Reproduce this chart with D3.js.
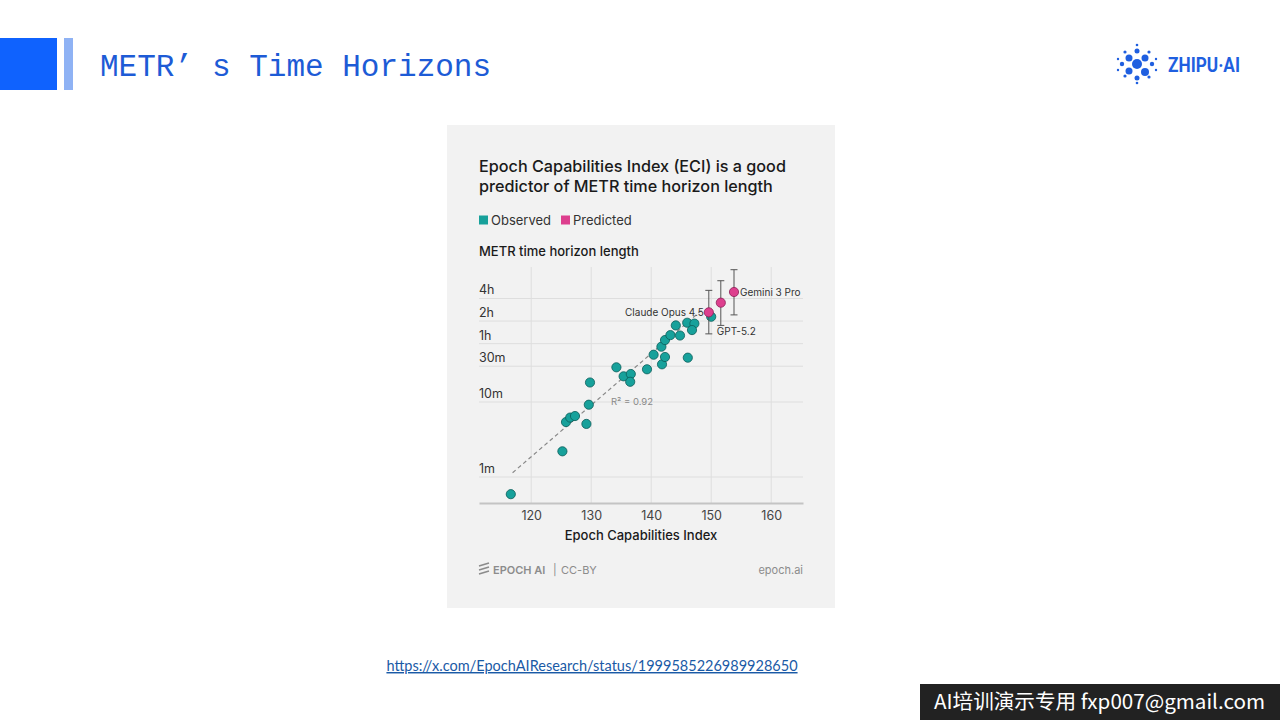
<!DOCTYPE html>
<html>
<head>
<meta charset="utf-8">
<script src="https://cdn.jsdelivr.net/npm/d3@7"></script>
<style>
  body { margin: 0; background: #fff; }
  svg { display: block; }
</style>
</head>
<body>
<div id="slide"></div>
<script>
// observed models: ECI score and METR time horizon (minutes)
var obsEci = [116.6, 125.2, 125.8, 126.5, 127.3, 129.2, 129.6, 129.8, 134.2, 135.4, 136.6, 136.5, 139.3,
              140.4, 141.8, 142.3, 141.7, 142.3, 143.2, 144.8, 144.1, 146.1, 146.0, 147.2, 146.8, 150.0];
var obsMinutes = [0.59, 2.2, 5.4, 6.2, 6.5, 5.1, 9.2, 18.2, 29, 22, 23.6, 18.6, 27.3,
                  42.7, 31.8, 39.8, 54.6, 67, 78, 77, 105, 39, 114, 111, 91, 137];

// predicted models with interval
var predNames = ["Claude Opus 4.5", "GPT-5.2", "Gemini 3 Pro"];
var predEci = [149.6, 151.6, 153.8];
var predMinutes = [157, 211, 293];
var predLow = [81, 105, 145];
var predHigh = [308, 414, 581];

// dashed fit line (two ends)
var fitEci = [116.9, 148.5];
var fitMinutes = [1.14, 170];

var yTickVals = [1, 10, 30, 60, 120, 240];
var yTickLabels = ["1m", "10m", "30m", "1h", "2h", "4h"];
var xTickVals = [120, 130, 140, 150, 160];

var teal = "#17a19b", tealDark = "#0b5d59";
var pink = "#dd3f8e", pinkDark = "#8c1f57";

var svg = d3.select("#slide").append("svg")
    .attr("width", 1280)
    .attr("height", 720);

// slide header
svg.append("rect").attr("x", 0).attr("y", 38).attr("width", 57).attr("height", 52).attr("fill", "#0f62fe");
svg.append("rect").attr("x", 64).attr("y", 38).attr("width", 9).attr("height", 52).attr("fill", "#8fb2f4");
var head = svg.append("text")
    .attr("x", 100).attr("y", 76)
    .attr("font-family", "Liberation Mono, DejaVu Sans Mono, monospace")
    .attr("font-size", 31)
    .attr("fill", "#1d5bd6");
head.append("tspan").text("METR’");
head.append("tspan").attr("dx", 19).text("s Time Horizons");

// zhipu logo
var logo = svg.append("g").attr("transform", "translate(1137,64)");
var dots = [[0,0,5],[-8,-6,3.5],[8,-6,3.5],[-8,7,3.5],[8,8,4],[0,-13,2.5],[0,14,2.5],[-15,0,2.2],[15,0,2.2],
            [-12,-12,1.6],[12,-12,1.6],[-12,12,1.6],[12,13,1.6],[-19,-5,1.2],[19,-5,1.2],[-19,6,1.2],[19,6,1.2],[0,-19,1.3],[0,19,1.3]];
logo.selectAll("circle").data(dots).enter().append("circle")
    .attr("cx", function(d) { return d[0]; })
    .attr("cy", function(d) { return d[1]; })
    .attr("r", function(d) { return d[2]; })
    .attr("fill", "#1f5fe0");
svg.append("text")
    .attr("x", 1168).attr("y", 72)
    .attr("font-family", "Roboto, Liberation Sans, sans-serif")
    .attr("font-weight", 700)
    .attr("font-size", 20)
    .attr("textLength", 72).attr("lengthAdjust", "spacingAndGlyphs")
    .attr("fill", "#1f5fe0")
    .text("ZHIPU·AI");

// chart card
svg.append("rect").attr("x", 447).attr("y", 125).attr("width", 388).attr("height", 483).attr("fill", "#f2f2f2");

var font = "Inter, Noto Sans, sans-serif";
var title = svg.append("text")
    .attr("font-family", font)
    .attr("font-size", 16.2)
    .attr("font-weight", 500)
    .attr("fill", "#1a1a1a");
title.append("tspan").attr("x", 479).attr("y", 172).text("Epoch Capabilities Index (ECI) is a good");
title.append("tspan").attr("x", 479).attr("y", 192).text("predictor of METR time horizon length");

// legend
var legend = [["Observed", teal, 479], ["Predicted", pink, 561]];
var lg = svg.selectAll(".lg").data(legend).enter().append("g").attr("class", "lg");
lg.append("rect")
    .attr("x", function(d) { return d[2]; })
    .attr("y", 215.5).attr("width", 9).attr("height", 9)
    .attr("fill", function(d) { return d[1]; });
lg.append("text")
    .attr("x", function(d) { return d[2] + 12; })
    .attr("y", 225)
    .attr("font-family", font).attr("font-size", 13).attr("fill", "#333")
    .text(function(d) { return d[0]; });

svg.append("text")
    .attr("x", 479).attr("y", 256)
    .attr("font-family", font).attr("font-size", 13).attr("font-weight", 500).attr("fill", "#1a1a1a")
    .text("METR time horizon length");

// scales
var x = d3.scaleLinear().domain([111.3, 165.3]).range([479, 803]);
var y = d3.scaleLog().domain([0.45, 631]).range([503, 267]);

var grid = svg.append("g");
grid.selectAll(".vg").data(xTickVals).enter().append("line")
    .attr("x1", function(d) { return x(d); }).attr("x2", function(d) { return x(d); })
    .attr("y1", 267).attr("y2", 503)
    .attr("stroke", "#dedede").attr("stroke-width", 1);
grid.selectAll(".hg").data(yTickVals).enter().append("line")
    .attr("x1", 479).attr("x2", 803)
    .attr("y1", function(d) { return y(d); }).attr("y2", function(d) { return y(d); })
    .attr("stroke", "#dedede").attr("stroke-width", 1);
grid.selectAll(".yl").data(yTickVals).enter().append("text")
    .attr("x", 479)
    .attr("y", function(d) { return y(d) - 4; })
    .attr("font-family", font).attr("font-size", 12.5).attr("fill", "#333")
    .text(function(d, i) { return yTickLabels[i]; });

// x axis
var xAxis = svg.append("g")
    .attr("transform", "translate(0,503)")
    .call(d3.axisBottom(x).tickValues(xTickVals).tickSize(0).tickPadding(8));
xAxis.select(".domain").attr("stroke", "#c4c4c4").attr("stroke-width", 2);
xAxis.selectAll("text").attr("font-family", font).attr("font-size", 12.5).attr("fill", "#444");

svg.append("text")
    .attr("x", 641).attr("y", 540)
    .attr("text-anchor", "middle")
    .attr("font-family", font).attr("font-size", 13).attr("font-weight", 500).attr("fill", "#1a1a1a")
    .text("Epoch Capabilities Index");

// fit line
var fit = fitEci.map(function(d, i) { return [d, fitMinutes[i]]; });
svg.append("path")
    .attr("d", d3.line().x(function(d) { return x(d[0]); }).y(function(d) { return y(d[1]); })(fit))
    .attr("fill", "none").attr("stroke", "#888").attr("stroke-width", 1.2)
    .attr("stroke-dasharray", "4,3");
svg.append("text")
    .attr("x", 611).attr("y", 405)
    .attr("font-family", font).attr("font-size", 9.5).attr("fill", "#8a8a8a")
    .text("R² = 0.92");

// observed points
var obs = obsEci.map(function(d, i) { return { eci: d, min: obsMinutes[i] }; });
svg.selectAll(".obs").data(obs).enter().append("circle")
    .attr("class", "obs")
    .attr("cx", function(d) { return x(d.eci); })
    .attr("cy", function(d) { return y(d.min); })
    .attr("r", 4.6)
    .attr("fill", teal).attr("stroke", tealDark).attr("stroke-width", 0.8);

// predicted points with error bars
var pred = predNames.map(function(n, i) {
  return { name: n, eci: predEci[i], min: predMinutes[i], lo: predLow[i], hi: predHigh[i] };
});
var pg = svg.selectAll(".pred").data(pred).enter().append("g").attr("class", "pred");
pg.append("line")
    .attr("x1", function(d) { return x(d.eci); }).attr("x2", function(d) { return x(d.eci); })
    .attr("y1", function(d) { return y(d.lo); }).attr("y2", function(d) { return y(d.hi); })
    .attr("stroke", "#555").attr("stroke-width", 1);
["lo", "hi"].forEach(function(k) {
  pg.append("line")
    .attr("x1", function(d) { return x(d.eci) - 3.5; }).attr("x2", function(d) { return x(d.eci) + 3.5; })
    .attr("y1", function(d) { return y(d[k]); }).attr("y2", function(d) { return y(d[k]); })
    .attr("stroke", "#555").attr("stroke-width", 1);
});
pg.append("circle")
    .attr("cx", function(d) { return x(d.eci); })
    .attr("cy", function(d) { return y(d.min); })
    .attr("r", 4.6)
    .attr("fill", pink).attr("stroke", pinkDark).attr("stroke-width", 0.8);

// point labels
var labelPos = { "Claude Opus 4.5": [-5, 4, "end"], "GPT-5.2": [-4, 0, "start"], "Gemini 3 Pro": [6, 4, "start"] };
pg.append("text")
    .attr("x", function(d) { return x(d.eci) + labelPos[d.name][0]; })
    .attr("y", function(d) {
      return d.name === "GPT-5.2" ? y(d.lo) + 10 : y(d.min) + labelPos[d.name][1];
    })
    .attr("text-anchor", function(d) { return labelPos[d.name][2]; })
    .attr("font-family", font).attr("font-size", 10).attr("fill", "#333")
    .text(function(d) { return d.name; });

// footer
var foot = svg.append("g").attr("fill", "#8c8c8c").attr("font-family", font).attr("font-size", 11);
foot.append("path")
    .attr("d", "M479,566 L489,563 M479,570 L489,567 M479,574 L489,571")
    .attr("stroke", "#8c8c8c").attr("stroke-width", 1.6);
foot.append("text").attr("x", 493).attr("y", 574).attr("font-weight", 600).text("EPOCH AI");
foot.append("text").attr("x", 553).attr("y", 574).text("|");
foot.append("text").attr("x", 561).attr("y", 574).text("CC-BY");
foot.append("text").attr("x", 803).attr("y", 574).attr("text-anchor", "end").text("epoch.ai");

// source link
svg.append("text")
    .attr("x", 592).attr("y", 671)
    .attr("text-anchor", "middle")
    .attr("font-family", "Lato, Liberation Sans, sans-serif")
    .attr("font-size", 14.5)
    .attr("fill", "#1a5aa6")
    .attr("text-decoration", "underline")
    .text("https://x.com/EpochAIResearch/status/1999585226989928650");

// watermark
svg.append("rect").attr("x", 920).attr("y", 684).attr("width", 360).attr("height", 36).attr("fill", "#222");
svg.append("text")
    .attr("x", 934).attr("y", 709)
    .attr("font-family", "Noto Sans CJK SC, Noto Sans, sans-serif")
    .attr("font-size", 20)
    .attr("textLength", 331).attr("lengthAdjust", "spacingAndGlyphs")
    .attr("fill", "#fff")
    .text("AI培训演示专用 fxp007@gmail.com");
</script>
</body>
</html>
